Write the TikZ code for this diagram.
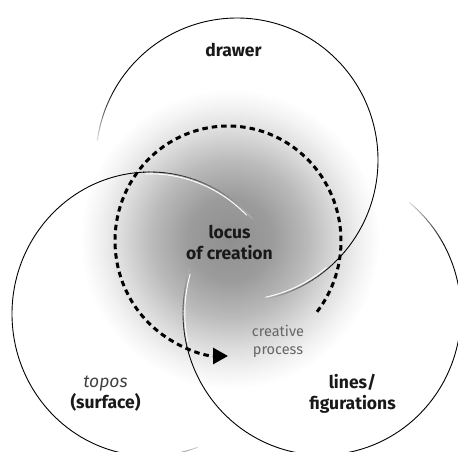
\documentclass[tikz,border=0pt]{standalone}
\usepackage{fontspec}
\setmainfont{Fira Sans}
\usetikzlibrary{calc,arrows.meta}
\pgfdeclareradialshading{fog}{\pgfpoint{0bp}{0bp}}{color(0bp)=(black!44); color(7bp)=(black!39); color(13bp)=(black!27); color(18bp)=(black!14); color(22bp)=(black!5); color(25bp)=(white); color(50bp)=(white)}
\newcommand\fadearc[8]{%
  \foreach \k in {0,...,23}{%
    \pgfmathsetmacro\sa{#4+(#5-#4)*\k/24}%
    \pgfmathsetmacro\ea{#4+(#5-#4)*(\k+1.15)/24}%
    \pgfmathsetmacro\pc{#6+(#7-#6)*\k/23}%
    \draw[#8,draw=black!\pc] ($(#1)+(\sa:#2 and #3)$) arc[start angle=\sa,end angle=\ea,x radius=#2,y radius=#3];
  }}
\tikzset{
  circ/.style={line width=0.9pt},
  hilite/.style={draw=white,line width=0.9pt},
  dashline/.style={line width=3pt,dash pattern=on 5.5pt off 4pt,-{Triangle[length=15pt,width=16pt]}},
  bold/.style={font=\fontsize{17.5}{21}\selectfont\bfseries,text=black!90,align=center},
  soft/.style={font=\fontsize{14.5}{18}\selectfont,text=black!60,align=center}
}
\begin{document}
\begin{tikzpicture}[x=1pt,y=1pt]
\useasboundingbox (0,0) rectangle (458,452);
\clip (0,0) rectangle (458,452);
\shade[shading=fog] (230,213) circle[radius=150];
\coordinate (T) at (237,292);
\coordinate (L) at (150,138);
\coordinate (R) at (322,139);
\coordinate (D) at (228,211);
% top circle (drawer)
\draw[circ] ($(T)+(-43:141 and 142)$) arc[start angle=-43,end angle=150,x radius=141,y radius=142];
\fadearc{T}{141}{142}{150}{172}{100}{15}{circ}
\fadearc{T}{139.2}{140.2}{-50}{-78}{0}{0}{hilite}
\fadearc{T}{141}{142}{-43}{-78}{100}{30}{circ}
% left circle (topos)
\draw[circ] ($(L)+(95:138 and 142)$) arc[start angle=95,end angle=262,x radius=138,y radius=142];
\fadearc{L}{138}{142}{262}{290}{100}{20}{circ}
\fadearc{L}{136.2}{140.2}{92}{45}{0}{0}{hilite}
\fadearc{L}{138}{142}{95}{42.5}{100}{30}{circ}
% right circle (lines)
\draw[circ] ($(R)+(195:139 and 142)$) arc[start angle=195,end angle=388,x radius=139,y radius=142];
\fadearc{R}{139}{142}{388}{411}{100}{15}{circ}
\fadearc{R}{137.2}{140.2}{192}{164}{0}{0}{hilite}
\fadearc{R}{139}{142}{195}{162}{100}{30}{circ}
% creative process loop
\draw[dashline] ($(D)+(-38:113 and 115)$) arc[start angle=-38,end angle=270,x radius=113,y radius=115];
% texts
\node[bold] (drawer) at (233.5,402) {drawer};
\node[bold] (locus) at (229.5,209.5) {locus\\of creation};
\node[soft] (proc) at (278,111) {creative\\process};
\node[bold] (topos) at (105.5,58.5) {{\mdseries\itshape\color{black!75}topos}\\(surface)};
\node[bold] (lines) at (352.5,58.5) {lines/\\figurations};
\end{tikzpicture}
\end{document}
